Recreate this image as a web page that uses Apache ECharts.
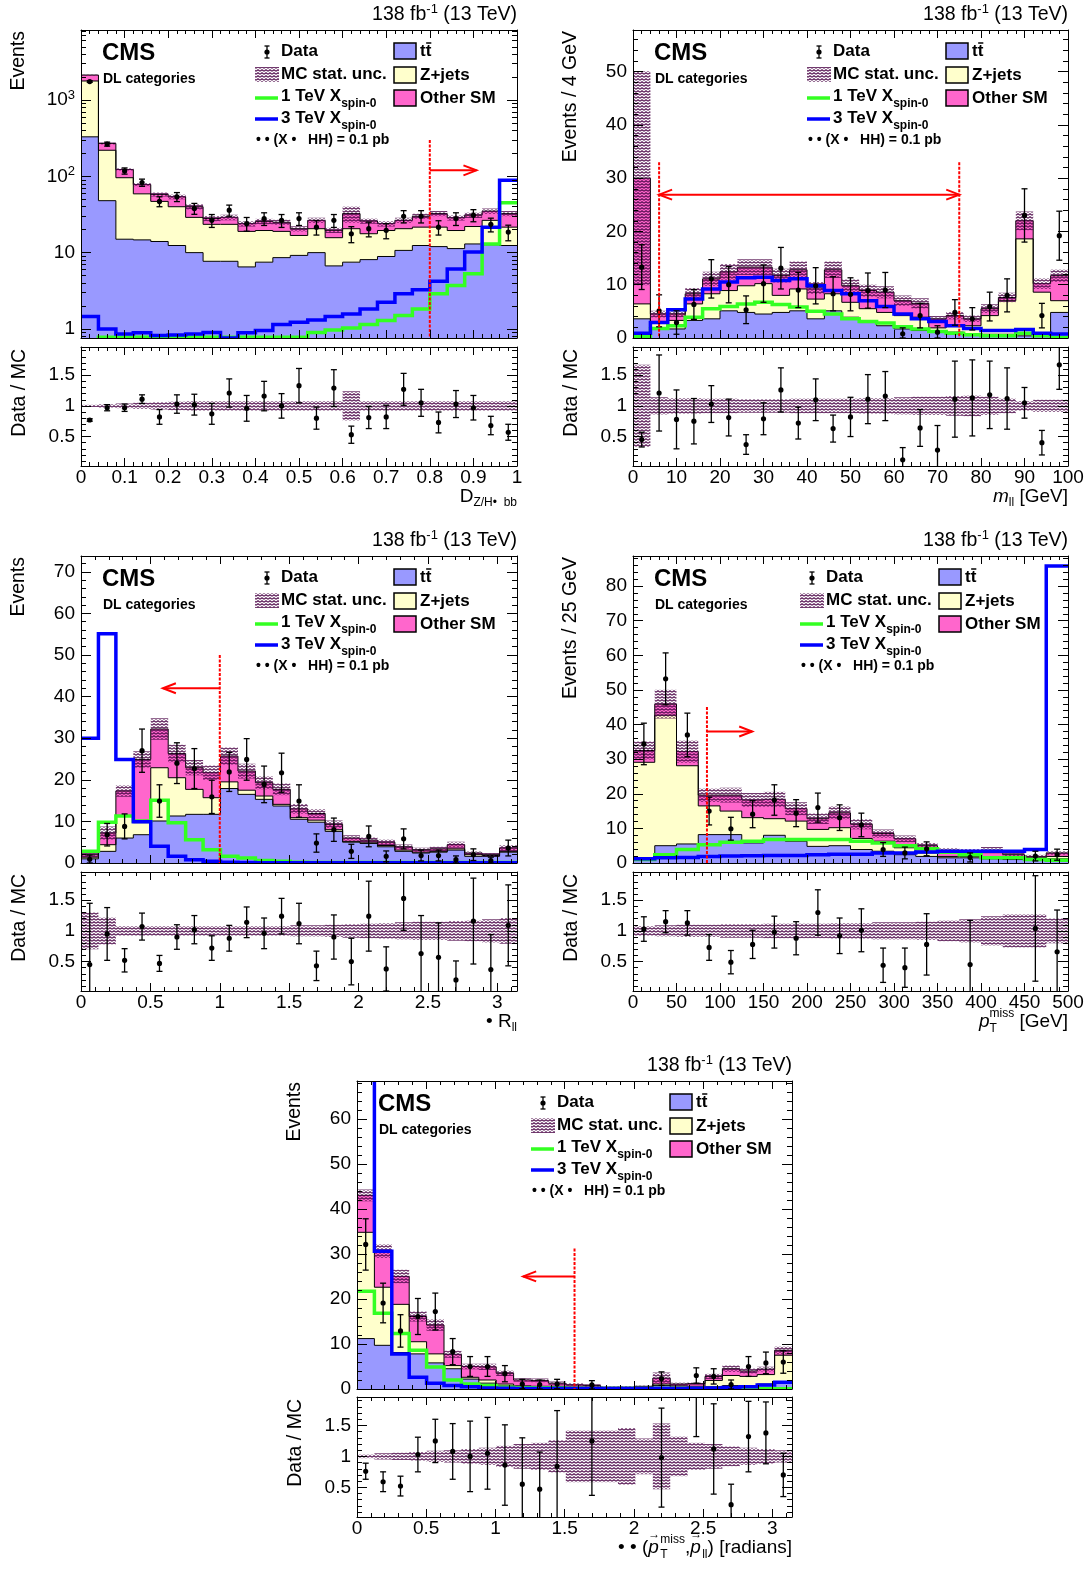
<!DOCTYPE html>
<html>
<head>
<meta charset="utf-8">
<script src="https://cdn.jsdelivr.net/npm/echarts@6/dist/echarts.min.js"></script>
<style>
  html, body { margin: 0; padding: 0; background: #fff; }
  #chart { width: 1091px; height: 1571px; }
</style>
</head>
<body>
<div id="chart"></div>
<script>
// ---------------- D_Z/H->bb (log scale) ----------------
const dzhTT       = [330, 48, 15, 14.7, 14, 12.4, 10, 7.7, 7.7, 6.5, 7.5, 8.6, 9.2, 10, 6.7, 7.5, 8.1, 8.9, 10.7, 12.4, 12, 11.3, 13, 12.7, 12.4];
const dzhZJ       = [1450, 172, 81, 44.3, 33, 27.6, 19, 15.8, 15.8, 12.5, 12, 10.4, 7.6, 10.6, 9, 13.1, 9.6, 10.6, 9.9, 9.2, 9.6, 8.2, 9, 13.8, 9.2];
const dzhOther    = [350, 50, 27, 19, 11, 14, 11, 4.5, 5.5, 5, 6.2, 6, 3.8, 5.9, 3.9, 11.9, 8.3, 4.5, 5.9, 8.4, 10.9, 9.2, 9, 8.5, 10.9];
const dzhUnc      = [0.02, 0.03, 0.04, 0.05, 0.06, 0.07, 0.08, 0.08, 0.08, 0.08, 0.08, 0.08, 0.08, 0.08, 0.08, 0.24, 0.08, 0.08, 0.08, 0.08, 0.08, 0.08, 0.08, 0.08, 0.08];
const dzhSig1     = [0.5, 0.78, 0.78, 0.78, 0.78, 0.78, 0.78, 0.78, 0.78, 0.78, 0.78, 0.78, 0.78, 0.9, 0.97, 1.03, 1.14, 1.29, 1.5, 1.83, 2.88, 3.7, 5.3, 13, 45];
const dzhSig3     = [1.45, 1.0, 0.86, 0.89, 0.82, 0.83, 0.86, 0.9, 0.76, 0.89, 0.95, 1.14, 1.22, 1.31, 1.45, 1.57, 1.83, 2.24, 2.88, 3.25, 4.2, 6.1, 10.2, 21.6, 89];
const dzhData     = [1750, 265, 118, 83, 47, 54, 38, 26.5, 36, 24, 28, 26.5, 28, 21.6, 26.5, 17.7, 20.6, 19.6, 30, 30, 21.6, 28, 31, 23.5, 18.6];
const dzhDataErr  = [42, 16, 11, 9, 7, 7.3, 6.2, 5.1, 6, 4.9, 5.3, 5.1, 5.3, 4.6, 5.1, 4.2, 4.5, 4.4, 5.5, 5.5, 4.6, 5.3, 5.6, 4.8, 4.3];
const dzhRatio    = [0.77, 0.97, 0.97, 1.11, 0.82, 1.03, 1.02, 0.87, 1.21, 0.96, 1.16, 1.0, 1.33, 0.8, 1.29, 0.53, 0.81, 0.82, 1.27, 1.05, 0.73, 1.03, 0.97, 0.68, 0.57];
const dzhRatioErr = [0.02, 0.05, 0.06, 0.07, 0.12, 0.15, 0.17, 0.17, 0.23, 0.21, 0.24, 0.2, 0.28, 0.18, 0.3, 0.14, 0.18, 0.19, 0.26, 0.22, 0.17, 0.22, 0.2, 0.15, 0.13];
const dzhXTicks   = [0, 0.1, 0.2, 0.3, 0.4, 0.5, 0.6, 0.7, 0.8, 0.9, 1];
const dzhYTicks   = [1, 10, 100, 1000];
const dzhCutX     = [0.8];
const dzhCutTop   = [300];
const dzhArrow    = [0.8, 0.907, 120];

// ---------------- m_ll ----------------
const mllTT       = [3.6, 1.7, 1.7, 3.3, 3.6, 5.1, 4.8, 4.5, 4.8, 5.1, 3.6, 5.1, 3.9, 2.9, 2.3, 1.7, 1.4, 1.1, 1.1, 0.75, 0.7, 0.7, 0.4, 0.7, 4.8];
const mllZJ       = [2.8, 1.4, 1.6, 3.1, 4.7, 3.8, 5.0, 5.7, 3.2, 4.1, 3.7, 3.2, 2.8, 2.6, 2.5, 2.5, 2.5, 0.8, 1.2, 1.55, 3.5, 6.3, 18.2, 7.9, 2.2];
const mllOther    = [23.6, 1.4, 1.2, 1.9, 2.8, 3.5, 3.5, 3.1, 3.7, 3.6, 2.1, 4.5, 3.1, 3.4, 3.8, 2.8, 2.6, 1.7, 1.9, 1.3, 1.3, 0.6, 3.4, 1.6, 4.7];
const mllUnc      = [0.67, 0.14, 0.13, 0.13, 0.12, 0.12, 0.11, 0.11, 0.11, 0.12, 0.12, 0.12, 0.12, 0.13, 0.13, 0.14, 0.15, 0.15, 0.16, 0.17, 0.15, 0.12, 0.08, 0.1, 0.1];
const mllSig1     = [0.3, 1.8, 2.3, 3.9, 5.5, 5.9, 6.4, 6.7, 6.3, 5.8, 5.0, 4.5, 3.6, 3.1, 2.8, 2.1, 1.7, 1.2, 0.9, 0.6, 0.4, 0.4, 0.9, 0.4, 0.1];
const mllSig3     = [0.9, 2.9, 5.3, 7.3, 9.2, 10.5, 11.3, 11.4, 10.8, 11.1, 9.8, 8.9, 8.3, 7.0, 5.9, 4.5, 3.6, 3.1, 2.3, 1.8, 1.4, 1.4, 1.6, 0.9, 0.75];
const mllData     = [13.3, 5.1, 2.9, 6.3, 11.1, 10.0, 5.3, 10.2, 13.1, 9.0, 9.8, 8.3, 8.2, 8.9, 9.0, 0.8, 4.2, 1.1, 4.8, 3.6, 5.9, 8.0, 23.0, 4.2, 19.2];
const mllDataErr  = [4.2, 3.0, 2.2, 2.8, 3.6, 3.4, 2.6, 3.5, 3.9, 3.3, 3.4, 3.2, 3.1, 3.3, 3.3, 1.1, 2.3, 1.2, 2.4, 2.1, 2.7, 3.1, 5.0, 2.3, 4.6];
const mllRatio    = [0.45, 1.21, 0.78, 0.75, 1.03, 0.81, 0.37, 0.79, 1.26, 0.72, 1.1, 0.63, 0.82, 1.11, 1.16, 0.12, 0.64, 0.28, 1.11, 1.13, 1.18, 1.12, 1.05, 0.4, 1.67];
const mllRatioErr = [0.12, 0.62, 0.48, 0.37, 0.3, 0.3, 0.16, 0.26, 0.36, 0.26, 0.34, 0.22, 0.32, 0.4, 0.4, 0.2, 0.3, 0.4, 0.62, 0.62, 0.55, 0.5, 0.25, 0.2, 0.4];
const mllXTicks   = [0, 10, 20, 30, 40, 50, 60, 70, 80, 90, 100];
const mllYTicks   = [0, 10, 20, 30, 40, 50];
const mllCutX     = [6, 75];
const mllCutTop   = [33];
const mllArrow    = [6, 75, 26.9];

// ---------------- Delta R_ll ----------------
const drTT        = [1.0, 2.8, 6.0, 6.8, 10.1, 11.3, 11.7, 11.7, 17.9, 16.5, 15.3, 13.7, 10.5, 9.8, 7.6, 5.0, 4.7, 3.9, 2.8, 2.4, 2.6, 3.1, 1.6, 1.6, 2.6];
const drZJ        = [0.4, 1.6, 5.4, 2.9, 12.8, 9.2, 6.0, 4.0, 1.6, 1.0, 0.8, 0.4, 0.4, 0.5, 0.4, 0.2, 0.3, 0.3, 0.3, 0.2, 0.2, 0.3, 0.4, 0.2, 0.2];
const drOther     = [0.6, 2.8, 5.9, 15.2, 9.3, 5.8, 5.2, 6.0, 6.2, 4.6, 3.2, 3.6, 2.1, 1.6, 1.3, 0.8, 0.5, 0.8, 0.8, 0.6, 0.6, 1.0, 0.4, 0.2, 0.8];
const drUnc       = [0.3, 0.22, 0.08, 0.08, 0.08, 0.08, 0.08, 0.08, 0.08, 0.08, 0.08, 0.08, 0.09, 0.09, 0.1, 0.11, 0.12, 0.13, 0.14, 0.15, 0.15, 0.16, 0.17, 0.19, 0.21];
const drSig1      = [2.8, 9.8, 11.3, 10.1, 15.1, 9.7, 5.6, 3.2, 1.6, 1.2, 0.6, 0.4, 0.2, 0.15, 0.1, 0.1, 0.1, 0.1, 0.1, 0.1, 0.1, 0.1, 0.1, 0.1, 0.1];
const drSig3      = [30, 55.1, 24.9, 9.9, 4.0, 1.6, 0.8, 0.4, 0.2, 0.1, 0.05, 0.05, 0.05, 0.05, 0.05, 0.05, 0.05, 0.05, 0.05, 0.05, 0.05, 0.05, 0.05, 0.05, 0.05];
const drData      = [0.9, 6.8, 8.8, 27.0, 14.9, 24.0, 22.7, 15.9, 21.9, 24.9, 18.9, 21.7, 14.9, 4.8, 8.0, 2.8, 6.4, 1.6, 5.8, 1.8, 1.8, 0.8, 2.0, 0.6, 3.6];
const drDataErr   = [1.0, 2.7, 3.0, 5.2, 3.9, 4.9, 4.8, 4.0, 4.7, 5.0, 4.4, 4.7, 3.9, 2.2, 2.8, 1.7, 2.5, 1.3, 2.4, 1.3, 1.3, 0.9, 1.4, 0.8, 1.9];
const drRatio     = [0.45, 0.95, 0.52, 1.07, 0.47, 0.9, 1.02, 0.72, 0.88, 1.14, 0.96, 1.24, 1.12, 0.43, 0.9, 0.5, 1.24, 0.38, 1.53, 0.63, 0.57, 0.2, 1.16, 0.37, 1.09];
const drRatioErr  = [1.0, 0.43, 0.19, 0.22, 0.13, 0.2, 0.23, 0.2, 0.21, 0.25, 0.25, 0.29, 0.33, 0.24, 0.36, 0.38, 0.57, 0.36, 0.52, 0.62, 0.56, 0.31, 0.7, 0.57, 0.66];
const drXTicks    = [0, 0.5, 1, 1.5, 2, 2.5, 3];
const drYTicks    = [0, 10, 20, 30, 40, 50, 60, 70];
const drCutX      = [1.0];
const drCutTop    = [50];
const drArrow     = [1.0, 0.59, 42];

// ---------------- pT miss ----------------
const metTT       = [1.0, 5.0, 5.5, 8.2, 8.2, 5.8, 8.0, 6.3, 4.8, 5.0, 3.9, 3.4, 2.4, 1.9, 1.5, 1.5, 1.2, 1.0, 1.0, 1.2];
const metZJ       = [28.1, 37.7, 22.6, 8.3, 6.8, 7.3, 4.8, 5.8, 4.9, 5.2, 3.2, 2.9, 2.0, 1.0, 0.4, 0.4, 0.3, 0.5, 0.5, 0.7];
const metOther    = [3.4, 3.2, 4.1, 3.1, 4.6, 5.1, 5.6, 3.6, 3.1, 4.3, 4.1, 2.2, 2.6, 2.1, 1.8, 1.5, 2.2, 0.9, 0.4, 1.0];
const metUnc      = [0.08, 0.09, 0.1, 0.1, 0.11, 0.11, 0.12, 0.12, 0.12, 0.13, 0.13, 0.14, 0.14, 0.15, 0.17, 0.19, 0.24, 0.27, 0.27, 0.2];
const metSig1     = [1.0, 2.4, 3.9, 5.3, 6.0, 6.3, 6.8, 6.8, 6.8, 6.8, 6.3, 5.8, 5.0, 4.1, 3.1, 2.4, 1.5, 1.5, 1.0, 0.8];
const metSig3     = [1.2, 1.5, 1.6, 1.9, 2.0, 2.1, 2.2, 2.2, 2.4, 2.5, 2.5, 2.9, 2.9, 3.2, 3.4, 3.4, 3.4, 3.4, 3.9, 85.8];
const metData     = [34.4, 53.2, 37.0, 15.0, 9.9, 14.1, 18.2, 14.4, 16.0, 13.1, 11.0, 3.9, 2.9, 4.1, null, 1.6, null, null, 2.0, 2.4];
const metDataErr  = [6.0, 7.5, 6.3, 4.0, 3.3, 3.9, 4.4, 3.9, 4.2, 3.7, 3.4, 2.0, 1.7, 2.0, 0, 1.3, 0, 0, 1.4, 1.6];
const metRatio    = [1.03, 1.15, 1.13, 0.73, 0.49, 0.78, 0.98, 0.88, 1.3, 0.92, 1.01, 0.44, 0.4, 0.78, null, 0.45, null, null, 1.04, 0.66];
const metRatioErr = [0.2, 0.18, 0.2, 0.21, 0.19, 0.23, 0.26, 0.27, 0.37, 0.29, 0.35, 0.28, 0.32, 0.5, 0, 0.72, 0, 0, 0.86, 0.68];
const metXTicks   = [0, 50, 100, 150, 200, 250, 300, 350, 400, 450, 500];
const metYTicks   = [0, 10, 20, 30, 40, 50, 60, 70, 80];
const metCutX     = [85];
const metCutTop   = [45.1];
const metArrow    = [85, 137, 38];

// ---------------- Delta phi(pT miss, p_ll) ----------------
const dphiTT       = [11.2, 9.7, 8.1, 7.8, 5.8, 4.5, 2.2, 1.3, 0.7, 0.5, 0.4, 0.4, 0.2, 0.2, 0.1, 0.1, 0.1, 0.75, 0.4, 0.3, 0.5, 0.75, 0.75, 1.1, 1.5];
const dphiZJ       = [23.6, 12.9, 10.7, 2.7, 2.0, 0.7, 0.4, 0.7, 0.4, 0.2, 0.2, 0.2, 0.2, 0.2, 0.1, 0.1, 0.2, 0.35, 0.3, 0.3, 1.4, 2.25, 2.05, 2.1, 6.0];
const dphiOther    = [8.2, 8.0, 6.2, 5.6, 6.4, 2.5, 2.4, 2.9, 2.4, 1.3, 1.3, 0.7, 0.5, 0.35, 0.2, 0.2, 0.3, 1.3, 0.4, 0.6, 0.9, 1.5, 1.2, 1.2, 1.1];
const dphiUnc      = [0.03, 0.05, 0.06, 0.07, 0.09, 0.1, 0.12, 0.14, 0.17, 0.2, 0.22, 0.26, 0.42, 0.42, 0.42, 0.46, 0.29, 0.53, 0.32, 0.22, 0.2, 0.16, 0.14, 0.12, 0.1];
const dphiSig1     = [21.7, 16.8, 12.3, 8.6, 4.9, 2.0, 1.1, 0.75, 0.4, 0.3, 0.25, 0.2, 0.15, 0.1, 0.1, 0.1, 0.1, 0.1, 0.1, 0.1, 0.1, 0.05, 0.05, 0.05, 0.05];
const dphiSig3     = [95, 30.6, 7.8, 2.6, 1.3, 0.75, 0.5, 0.2, 0.15, 0.1, 0.1, 0.1, 0.1, 0.1, 0.1, 0.1, 0.1, 0.1, 0.1, 0.15, 0.2, 0.35, 0.5, 0.9, 1.5];
const dphiData     = [32.1, 19.1, 12.9, 16.1, 17.2, 8.3, 5.0, 5.0, 3.4, 1.1, 1.0, 1.1, null, 0.9, null, null, null, 2.3, null, 3.0, 2.8, 1.0, 5.0, 5.8, 6.0];
const dphiDataErr  = [5.7, 4.4, 3.6, 4.0, 4.1, 2.9, 2.2, 2.2, 1.8, 1.05, 1.0, 1.05, 0, 0.95, 0, 0, 0, 1.5, 0, 1.7, 1.7, 1.0, 2.2, 2.4, 2.5];
const dphiRatio    = [0.76, 0.59, 0.52, 1.03, 1.25, 1.08, 1.0, 1.05, 0.86, 0.55, 0.47, 0.84, null, 1.25, null, null, null, 0.98, null, 2.6, 1.12, 0.22, 1.32, 1.38, 0.7];
const dphiRatioErr = [0.13, 0.16, 0.16, 0.28, 0.35, 0.45, 0.57, 0.58, 0.65, 0.75, 0.6, 0.9, 0, 0.88, 0, 0, 0, 0.8, 0, 1.28, 0.73, 0.33, 0.57, 0.5, 0.35];
const dphiXTicks   = [0, 0.5, 1, 1.5, 2, 2.5, 3];
const dphiYTicks   = [0, 10, 20, 30, 40, 50, 60];
const dphiCutX     = [1.571];
const dphiCutTop   = [31.2];
const dphiArrow    = [1.571, 1.2, 25];

const ratioYTicks = [0.5, 1, 1.5];

// ---------------- styles ----------------
const FAM = '"Liberation Sans", Arial, Helvetica, sans-serif';
const R = s => s + 'px ' + FAM;
const B = s => 'bold ' + s + 'px ' + FAM;
const I = s => 'italic ' + s + 'px ' + FAM;
const C_TT = '#9999ff', C_ZJ = '#ffffcc', C_OTHER = '#ff66cc';
const C_SIG1 = '#33ff22', C_SIG3 = '#0000ff', C_RED = '#ff0000';

// MC stat. unc. hatching (dense purple wavy lines)
const hatchCanvas = document.createElement('canvas');
hatchCanvas.width = 4; hatchCanvas.height = 3;
(function () {
    const g = hatchCanvas.getContext('2d');
    g.strokeStyle = 'rgba(80,12,76,0.95)';
    g.lineWidth = 1.2;
    g.beginPath(); g.moveTo(0, 2.2); g.lineTo(2, 0.8); g.lineTo(4, 2.2); g.stroke();
})();
const hatch = { image: hatchCanvas, repeat: 'repeat' };

const panels = [
    { tt: dzhTT, zj: dzhZJ, other: dzhOther, unc: dzhUnc, sig1: dzhSig1, sig3: dzhSig3,
      data: dzhData, dataErr: dzhDataErr, ratio: dzhRatio, ratioErr: dzhRatioErr,
      xRange: [0, 1], yRange: [0.76, 8300], log: true, xTicks: dzhXTicks, xMinor: 0.02, yTicks: dzhYTicks,
      cutX: dzhCutX, cutTop: dzhCutTop, arrow: dzhArrow, both: false,
      yTitle: 'Events', xTitle: [{ t: 'D', f: R(19) }, { t: 'Z/H\u2022  bb', f: R(12), dy: 6 }],
      box: { left: 81, width: 436, top: 30, height: 308, rTop: 347, rHeight: 119 }, ldx: 0 },
    { tt: mllTT, zj: mllZJ, other: mllOther, unc: mllUnc, sig1: mllSig1, sig3: mllSig3,
      data: mllData, dataErr: mllDataErr, ratio: mllRatio, ratioErr: mllRatioErr,
      xRange: [0, 100], yRange: [0, 57.8], log: false, xTicks: mllXTicks, xMinor: 2, yTicks: mllYTicks,
      cutX: mllCutX, cutTop: mllCutTop, arrow: mllArrow, both: true,
      yTitle: 'Events / 4 GeV', xTitle: [{ t: 'm', f: I(19) }, { t: 'll', f: R(12), dy: 6 }, { t: ' [GeV]', f: R(19) }],
      box: { left: 633, width: 435, top: 30, height: 308, rTop: 347, rHeight: 119 }, ldx: 0 },
    { tt: drTT, zj: drZJ, other: drOther, unc: drUnc, sig1: drSig1, sig3: drSig3,
      data: drData, dataErr: drDataErr, ratio: drRatio, ratioErr: drRatioErr,
      xRange: [0, Math.PI], yRange: [0, 73.8], log: false, xTicks: drXTicks, xMinor: 0.1, yTicks: drYTicks,
      cutX: drCutX, cutTop: drCutTop, arrow: drArrow, both: false,
      yTitle: 'Events', xTitle: [{ t: '\u2022 R', f: R(19) }, { t: 'll', f: R(12), dy: 6 }],
      box: { left: 81, width: 436, top: 556, height: 307, rTop: 872, rHeight: 119 }, ldx: 0 },
    { tt: metTT, zj: metZJ, other: metOther, unc: metUnc, sig1: metSig1, sig3: metSig3,
      data: metData, dataErr: metDataErr, ratio: metRatio, ratioErr: metRatioErr,
      xRange: [0, 500], yRange: [0, 88.7], log: false, xTicks: metXTicks, xMinor: 10, yTicks: metYTicks,
      cutX: metCutX, cutTop: metCutTop, arrow: metArrow, both: false,
      yTitle: 'Events / 25 GeV',
      xTitle: [{ t: 'p', f: I(19) }, { stack: [{ t: 'miss', f: R(12), dy: -8 }, { t: 'T', f: R(12), dy: 7 }] }, { t: ' [GeV]', f: R(19) }],
      box: { left: 633, width: 435, top: 556, height: 307, rTop: 872, rHeight: 119 }, ldx: -7 },
    { tt: dphiTT, zj: dphiZJ, other: dphiOther, unc: dphiUnc, sig1: dphiSig1, sig3: dphiSig3,
      data: dphiData, dataErr: dphiDataErr, ratio: dphiRatio, ratioErr: dphiRatioErr,
      xRange: [0, Math.PI], yRange: [0, 68.4], log: false, xTicks: dphiXTicks, xMinor: 0.1, yTicks: dphiYTicks,
      cutX: dphiCutX, cutTop: dphiCutTop, arrow: dphiArrow, both: false,
      yTitle: 'Events',
      xTitle: [{ t: '\u2022 \u2022 (', f: R(19) },
               { stack: [{ t: 'p', f: I(19) }, { t: '\u2192', f: R(12), dy: -13 }] },
               { stack: [{ t: 'miss', f: R(12), dy: -8 }, { t: 'T', f: R(12), dy: 7 }] },
               { t: ',', f: R(19) },
               { stack: [{ t: 'p', f: I(19) }, { t: '\u2192', f: R(12), dy: -13 }] },
               { t: 'll', f: R(12), dy: 7 }, { t: ') [radians]', f: R(19) }],
      box: { left: 357, width: 435, top: 1081, height: 308, rTop: 1397, rHeight: 120 }, ldx: 0 }
];

// ---------------- helpers ----------------
const grids = [], xAxes = [], yAxes = [], series = [], graphics = [];
const mctx = document.createElement('canvas').getContext('2d');
const textWidth = (t, f) => { mctx.font = f; return mctx.measureText(t).width; };

function compose(x, y, parts, align) {
    const ws = parts.map(pt => Math.max(...(pt.stack || [pt]).map(s => textWidth(s.t, s.f))));
    const total = ws.reduce((a, b) => a + b, 0);
    let cx = align === 'right' ? x - total : x;
    parts.forEach((pt, i) => {
        (pt.stack || [pt]).forEach(s => graphics.push({
            type: 'text', x: cx, y: y + (s.dy || 0), z: 100, silent: true,
            style: { text: s.t, font: s.f, fill: '#000', align: 'left', verticalAlign: 'middle' }
        }));
        cx += ws[i];
    });
}
const gLine = (x1, y1, x2, y2, c, w) => ({ type: 'line', z: 100, silent: true, shape: { x1, y1, x2, y2 }, style: { stroke: c || '#000', lineWidth: w || 1.3 } });

function steps(a, b, s) {
    const out = [];
    for (let i = 0; a + i * s <= b + 1e-9; i++) out.push(+(a + i * s).toFixed(6));
    return out;
}
const fmt = v => String(Math.round(v * 1000) / 1000);

function addAxes(list, gi, horiz, min, max, majors, minors, label, mlen, nlen) {
    const first = list.length;
    (horiz ? ['bottom', 'top'] : ['left', 'right']).forEach((pos, pi) => {
        list.push({
            gridIndex: gi, type: 'value', min, max, position: pos, z: 10, silent: true,
            axisLine: { show: true, onZero: false, lineStyle: { color: '#000', width: 1 } },
            axisTick: { show: true, inside: true, length: mlen, customValues: majors, lineStyle: { color: '#000', width: 1 } },
            axisLabel: pi === 0 && label ? Object.assign({ show: true, customValues: majors }, label) : { show: false },
            splitLine: { show: false }
        });
        list.push({
            gridIndex: gi, type: 'value', min, max, position: pos, z: 10, silent: true,
            axisLine: { show: false, onZero: false },
            axisTick: { show: true, inside: true, length: nlen, customValues: minors, lineStyle: { color: '#000', width: 1 } },
            axisLabel: { show: false }, splitLine: { show: false }
        });
    });
    return first;
}

function stepPts(api, edges, vals, ty) {
    const pts = [];
    vals.forEach((v, i) => { pts.push(api.coord([edges[i], ty(v)]), api.coord([edges[i + 1], ty(v)])); });
    return pts;
}
function shape(xi, yi, build) {
    return { type: 'custom', xAxisIndex: xi, yAxisIndex: yi, clip: true, silent: true, animation: false,
             data: [[0, 0]], renderItem: (params, api) => build(api) };
}
function points(xi, yi, centers, vals, errs, ty) {
    const items = [];
    vals.forEach((v, i) => { if (v !== null) items.push([centers[i], v, errs[i]]); });
    return { type: 'custom', xAxisIndex: xi, yAxisIndex: yi, clip: true, silent: true, animation: false, data: items,
        renderItem: (params, api) => {
            const x = api.value(0), v = api.value(1), e = api.value(2);
            const c = api.coord([x, ty(v)]);
            const lo = api.coord([x, ty(Math.max(v - e, 1e-3))])[1], hi = api.coord([x, ty(v + e)])[1];
            const st = { stroke: '#000', lineWidth: 1.3 };
            return { type: 'group', children: [
                { type: 'line', shape: { x1: c[0], y1: lo, x2: c[0], y2: hi }, style: st },
                { type: 'line', shape: { x1: c[0] - 3, y1: lo, x2: c[0] + 3, y2: lo }, style: st },
                { type: 'line', shape: { x1: c[0] - 3, y1: hi, x2: c[0] + 3, y2: hi }, style: st },
                { type: 'circle', shape: { cx: c[0], cy: c[1], r: 2.6 }, style: { fill: '#000' } }
            ] };
        } };
}

function legend(fx, fy, dx) {
    compose(fx + 21, fy + 23, [{ t: 'CMS', f: B(24) }]);
    compose(fx + 22, fy + 49, [{ t: 'DL categories', f: B(14) }]);
    const lx = fx + 174 + dx, tx = fx + 200 + dx, bx = fx + 313 + dx;
    const mx = fx + 186 + dx, my = fy + 22;
    graphics.push(gLine(mx, my - 6, mx, my + 6), gLine(mx - 2.5, my - 6, mx + 2.5, my - 6), gLine(mx - 2.5, my + 6, mx + 2.5, my + 6),
        { type: 'circle', z: 100, silent: true, shape: { cx: mx, cy: my, r: 2.6 }, style: { fill: '#000' } });
    compose(tx, fy + 21, [{ t: 'Data', f: B(17) }]);
    graphics.push({ type: 'rect', z: 100, silent: true, shape: { x: lx, y: fy + 37, width: 24, height: 15 }, style: { fill: hatch } });
    compose(tx, fy + 44, [{ t: 'MC stat. unc.', f: B(17) }]);
    graphics.push(gLine(lx, fy + 68, lx + 23, fy + 68, C_SIG1, 3.5));
    compose(tx, fy + 66, [{ t: '1 TeV X', f: B(17) }, { t: 'spin-0', f: B(12), dy: 8 }]);
    graphics.push(gLine(lx, fy + 89, lx + 23, fy + 89, C_SIG3, 3.5));
    compose(tx, fy + 88, [{ t: '3 TeV X', f: B(17) }, { t: 'spin-0', f: B(12), dy: 8 }]);
    compose(lx + 1, fy + 110, [{ t: '\u2022 \u2022 (X \u2022   HH) = 0.1 pb', f: B(14) }]);
    [[C_TT, 13, 'tt'], [C_ZJ, 37, 'Z+jets'], [C_OTHER, 60, 'Other SM']].forEach(([col, y0, label]) => {
        graphics.push({ type: 'rect', z: 100, silent: true, shape: { x: bx, y: fy + y0, width: 22, height: 16 },
                        style: { fill: col, stroke: '#000', lineWidth: 1.5 } });
        compose(bx + 26, fy + y0 + 8, [{ t: label, f: B(17) }]);
    });
    const tw = textWidth('t', B(17));
    graphics.push(gLine(bx + 26 + tw + 0.5, fy + 13, bx + 26 + 2 * tw, fy + 13, '#000', 1.5));
}

// ---------------- build panels ----------------
panels.forEach(p => {
    const bx = p.box;
    const n = p.tt.length;
    const w = (p.xRange[1] - p.xRange[0]) / n;
    const edges = [], centers = [];
    for (let i = 0; i <= n; i++) edges.push(p.xRange[0] + i * w);
    for (let i = 0; i < n; i++) centers.push(p.xRange[0] + (i + 0.5) * w);
    const c1 = p.tt.slice(), c2 = c1.map((v, i) => v + p.zj[i]), c3 = c2.map((v, i) => v + p.other[i]);
    const lo = c3.map((v, i) => v * (1 - p.unc[i])), hi = c3.map((v, i) => v * (1 + p.unc[i]));
    const ty = p.log ? (v => Math.log10(Math.max(v, 1e-3))) : (v => v);
    const yMin = ty(p.yRange[0]), yMax = ty(p.yRange[1]);

    const gm = grids.length;
    grids.push({ left: bx.left, top: bx.top, width: bx.width, height: bx.height });
    const gr = grids.length;
    grids.push({ left: bx.left, top: bx.rTop, width: bx.width, height: bx.rHeight });

    const xMinors = steps(p.xRange[0], p.xRange[1], p.xMinor);
    const xLabel = { formatter: fmt, fontFamily: FAM, fontSize: 19, color: '#000', margin: 2 };
    const xm = addAxes(xAxes, gm, true, p.xRange[0], p.xRange[1], p.xTicks, xMinors, null, 8, 4);
    const xr = addAxes(xAxes, gr, true, p.xRange[0], p.xRange[1], p.xTicks, xMinors, xLabel, 8, 4);

    let yMajors, yMinors, yLabel;
    if (p.log) {
        yMajors = p.yTicks.map(ty);
        yMinors = [];
        for (let d = -1; d <= 3; d++) for (let k = 2; k <= 9; k++) {
            const v = k * Math.pow(10, d);
            if (v > p.yRange[0] && v < p.yRange[1]) yMinors.push(Math.log10(v));
        }
        yLabel = { fontFamily: FAM, fontSize: 19, color: '#000', margin: 6, lineHeight: 22,
                   formatter: v => { const e = Math.round(v); return e === 0 ? '1' : e === 1 ? '10' : '10{s|' + e + '}'; },
                   rich: { s: { fontFamily: FAM, fontSize: 13, color: '#000', lineHeight: 8, verticalAlign: 'top' } } };
    } else {
        yMajors = p.yTicks;
        yMinors = steps(0, p.yRange[1], 2);
        yLabel = { formatter: fmt, fontFamily: FAM, fontSize: 19, color: '#000', margin: 6 };
    }
    const ym = addAxes(yAxes, gm, false, yMin, yMax, yMajors, yMinors, yLabel, 10, 5);
    const yr = addAxes(yAxes, gr, false, 0.02, 1.96, ratioYTicks, steps(0.1, 1.9, 0.1),
                       { formatter: fmt, fontFamily: FAM, fontSize: 19, color: '#000', margin: 6 }, 10, 5);

    // stacked backgrounds
    [[null, c1, C_TT], [c1, c2, C_ZJ], [c2, c3, C_OTHER]].forEach(([base, top, col]) => {
        series.push(shape(xm, ym, api => {
            const bottom = base ? stepPts(api, edges, base, ty) : [api.coord([edges[0], yMin - 1]), api.coord([edges[n], yMin - 1])];
            return { type: 'polygon', shape: { points: stepPts(api, edges, top, ty).concat(bottom.reverse()) }, style: { fill: col } };
        }));
    });
    series.push(shape(xm, ym, api => ({ type: 'group', children: [c1, c2, c3].map(vals => ({
        type: 'polyline', shape: { points: stepPts(api, edges, vals, ty) }, style: { stroke: '#000', lineWidth: 1, fill: 'none' } })) })));
    // MC stat. band
    series.push(shape(xm, ym, api => ({ type: 'polygon',
        shape: { points: stepPts(api, edges, hi, ty).concat(stepPts(api, edges, lo, ty).reverse()) }, style: { fill: hatch } })));
    // signals
    [[p.sig1, C_SIG1], [p.sig3, C_SIG3]].forEach(([vals, col]) => {
        series.push(shape(xm, ym, api => ({ type: 'polyline', shape: { points: stepPts(api, edges, vals, ty) },
            style: { stroke: col, lineWidth: 3.5, fill: 'none' } })));
    });
    // data
    series.push(points(xm, ym, centers, p.data, p.dataErr, ty));
    // selection lines and arrow
    series.push(shape(xm, ym, api => {
        const kids = [];
        p.cutX.forEach(x => {
            const a = api.coord([x, ty(p.cutTop[0])]), b = api.coord([x, yMin]);
            kids.push({ type: 'line', shape: { x1: a[0], y1: a[1], x2: b[0], y2: b[1] }, style: { stroke: C_RED, lineWidth: 2, lineDash: [3, 1.5] } });
        });
        const s = api.coord([p.arrow[0], ty(p.arrow[2])]), e = api.coord([p.arrow[1], ty(p.arrow[2])]);
        const st = { stroke: C_RED, lineWidth: 2, fill: 'none' };
        kids.push({ type: 'line', shape: { x1: s[0], y1: s[1], x2: e[0], y2: e[1] }, style: st });
        const head = (tip, dir) => ({ type: 'polyline', shape: { points: [[tip[0] - dir * 13, tip[1] - 5], tip, [tip[0] - dir * 13, tip[1] + 5]] }, style: st });
        const dir = e[0] > s[0] ? 1 : -1;
        kids.push(head(e, dir));
        if (p.both) kids.push(head(s, -dir));
        return { type: 'group', children: kids };
    }));

    // ratio panel
    const rlo = p.unc.map(u => 1 - u), rhi = p.unc.map(u => 1 + u);
    const id = v => v;
    series.push(shape(xr, yr, api => ({ type: 'polygon',
        shape: { points: stepPts(api, edges, rhi, id).concat(stepPts(api, edges, rlo, id).reverse()) }, style: { fill: hatch } })));
    series.push(points(xr, yr, centers, p.ratio, p.ratioErr, id));

    // texts
    const right = bx.left + bx.width;
    compose(right, bx.top - 15, [{ t: '138 fb', f: R(19.5) }, { t: '-1', f: R(13), dy: -6 }, { t: ' (13 TeV)', f: R(19.5) }], 'right');
    legend(bx.left, bx.top, p.ldx);
    graphics.push({ type: 'text', x: bx.left - 62, y: bx.top + 1, rotation: Math.PI / 2, z: 100, silent: true,
                    style: { text: p.yTitle, font: R(19.5), fill: '#000', align: 'right', verticalAlign: 'middle' } });
    graphics.push({ type: 'text', x: bx.left - 61, y: bx.rTop + 2, rotation: Math.PI / 2, z: 100, silent: true,
                    style: { text: 'Data / MC', font: R(19.5), fill: '#000', align: 'right', verticalAlign: 'middle' } });
    compose(right, bx.rTop + bx.rHeight + 31, p.xTitle, 'right');
});

const chart = echarts.init(document.getElementById('chart'), null, { renderer: 'canvas' });
chart.setOption({
    animation: false,
    backgroundColor: '#ffffff',
    grid: grids,
    xAxis: xAxes,
    yAxis: yAxes,
    series: series,
    graphic: { elements: graphics }
});
</script>
</body>
</html>
